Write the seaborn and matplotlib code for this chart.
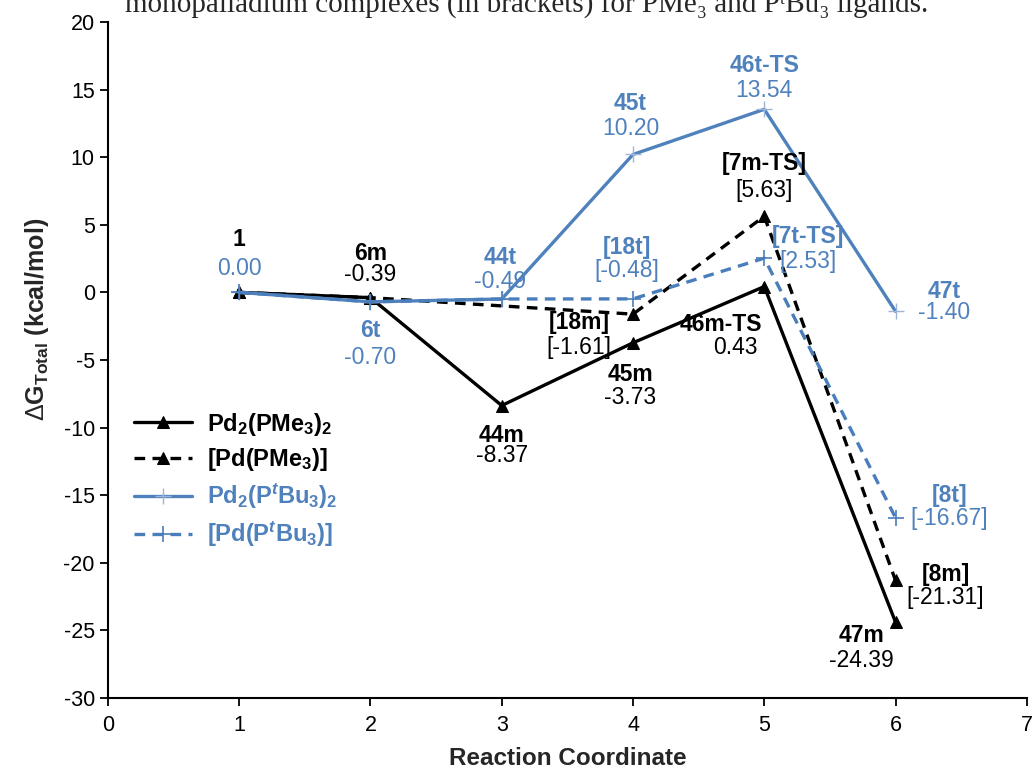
import numpy as np
import pandas as pd
import matplotlib
matplotlib.use('Agg')
import matplotlib.pyplot as plt
import seaborn as sns

# Reaction coordinate and free energies (kcal/mol)
x_full = [1, 2, 3, 4, 5, 6]
x_mono_me = [1, 2, 4, 5, 6]
pd2_pme3 = [0.00, -0.39, -8.37, -3.73, 0.43, -24.39]
pd_pme3 = [0.00, -0.39, -1.61, 5.63, -21.31]
pd2_ptbu3 = [0.00, -0.70, -0.49, 10.20, 13.54, -1.40]
pd_ptbu3 = [0.00, -0.70, -0.49, -0.48, 2.53, -16.67]

# point labels: (name, value text, x, y of name, y of value, colours)
BLUE = '#4F81BD'
point_labels = [
    ('1', '0.00', 1.0, 3.9, 1.8, 'k', BLUE),
    ('6m', '-0.39', 2.0, 2.85, 1.3, 'k', 'k'),
    ('44t', '-0.49', 2.99, 2.55, 0.8, BLUE, BLUE),
    ('6t', '-0.70', 2.0, -2.8, -4.8, BLUE, BLUE),
    ('45t', '10.20', 3.98, 13.95, 12.1, BLUE, BLUE),
    ('46t-TS', '13.54', 5.0, 16.75, 14.95, BLUE, BLUE),
    ('[7m-TS]', '[5.63]', 5.0, 9.55, 7.5, 'k', 'k'),
    ('[18t]', '[-0.48]', 3.95, 3.35, 1.6, BLUE, BLUE),
    ('[7t-TS]', '[2.53]', 5.33, 4.1, 2.25, BLUE, BLUE),
    ('[18m]', '[-1.61]', 3.59, -2.2, -4.05, 'k', 'k'),
    ('46m-TS', '0.43', 4.67, -2.4, -4.05, 'k', 'k'),
    ('45m', '-3.73', 3.98, -6.05, -7.75, 'k', 'k'),
    ('44m', '-8.37', 3.0, -10.55, -12.1, 'k', 'k'),
    ('47t', '-1.40', 6.37, 0.05, -1.5, BLUE, BLUE),
    ('[8t]', '[-16.67]', 6.41, -15.0, -16.75, BLUE, BLUE),
    ('[8m]', '[-21.31]', 6.38, -20.85, -22.55, 'k', 'k'),
    ('47m', '-24.39', 5.74, -25.4, -27.2, 'k', 'k'),
]
value_x_shift = {'0.43': 0.11}

sns.set_style('white')
plt.rcParams['font.family'] = ['Liberation Sans', 'DejaVu Sans']
plt.rcParams['mathtext.fontset'] = 'custom'
plt.rcParams['mathtext.rm'] = 'Liberation Sans'
plt.rcParams['mathtext.bf'] = 'Liberation Sans:bold'
plt.rcParams['mathtext.it'] = 'Liberation Sans:italic:bold'
plt.rcParams['axes.unicode_minus'] = False
plt.rcParams['font.size'] = 15

fig = plt.figure(figsize=(10.33, 7.71), dpi=100)
ax = fig.add_axes([0.1045, 0.0947, 0.8895, 0.8768])

sns.lineplot(x=x_full, y=pd2_pme3, ax=ax, color='black', linewidth=2.4,
             marker='^', markersize=9, markeredgecolor='black',
             label=r'Pd$_\mathbf{2}$(PMe$_\mathbf{3}$)$_\mathbf{2}$')
sns.lineplot(x=x_mono_me, y=pd_pme3, ax=ax, color='black', linewidth=2.4,
             linestyle=(0, (3.2, 2.2)), marker='^', markersize=9,
             markeredgecolor='black', label=r'[Pd(PMe$_\mathbf{3}$)]')
sns.lineplot(x=x_full, y=pd2_ptbu3, ax=ax, color=BLUE, linewidth=2.4,
             marker='+', markersize=11, markeredgewidth=1.0,
             markeredgecolor='#9DB5DA',
             label=r'Pd$_\mathbf{2}$(P$^{\mathit{t}}$Bu$_\mathbf{3}$)$_\mathbf{2}$')
sns.lineplot(x=x_full, y=pd_ptbu3, ax=ax, color='#4A7EBB', linewidth=2.4,
             linestyle=(0, (3.2, 2.2)), marker='+', markersize=11,
             markeredgewidth=1.2, markeredgecolor='#4A7EBB',
             label=r'[Pd(P$^{\mathit{t}}$Bu$_\mathbf{3}$)]')

for name, val, xx, yn, yv, cn, cv in point_labels:
    ax.text(xx, yn, name, ha='center', va='center', fontsize=16.5,
            fontweight='bold', color=cn)
    ax.text(xx + value_x_shift.get(val, 0), yv, val, ha='center', va='center',
            fontsize=16.5, color=cv)

ax.set_xlim(0, 7)
ax.set_ylim(-30, 20)
ax.set_xticks(range(0, 8))
ax.set_yticks(range(-30, 21, 5))
sns.despine(ax=ax)
for s in ['left', 'bottom']:
    ax.spines[s].set_linewidth(1.5)
    ax.spines[s].set_color('black')
ax.tick_params(axis='both', direction='out', length=6, width=1.3,
               labelsize=15.5, colors='black', left=True, bottom=True)
ax.tick_params(axis='x', pad=6)
ax.set_xlabel('Reaction Coordinate', fontsize=17.5, fontweight='bold', labelpad=8)
ax.set_ylabel(r'$\Delta$G$_\mathbf{Total}$ (kcal/mol)', fontsize=18,
              fontweight='bold')
ax.yaxis.set_label_coords(-0.062, 0.56)

leg = ax.legend(loc='upper left', bbox_to_anchor=(0.028, 0.425), frameon=False,
                handlelength=2.45, labelspacing=0.36, borderpad=0,
                borderaxespad=0, handletextpad=0.65,
                prop={'weight': 'bold', 'size': 17})
for t, c in zip(leg.get_texts(), ['black', 'black', BLUE, BLUE]):
    t.set_color(c)

fig.text(0.51, 1 - 13 / 771,
         'monopalladium complexes (in brackets) for PMe\u2083 and P\u1d57Bu\u2083 ligands.',
         ha='center', va='baseline', fontsize=21,
         family=['Liberation Serif', 'DejaVu Serif'])

fig.savefig('out.png', dpi=100)
